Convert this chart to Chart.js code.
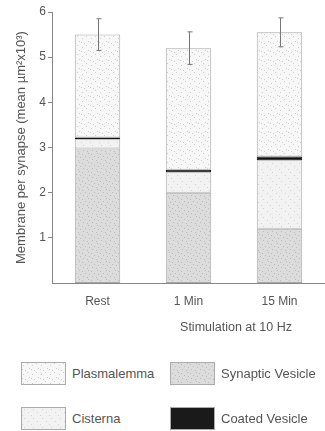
<!DOCTYPE html>
<html>
<head>
<meta charset="utf-8">
<script src="https://cdn.jsdelivr.net/npm/chart.js@4"></script>
<style>
  html, body { margin: 0; padding: 0; background: #fff; }
  body { width: 325px; height: 431px; position: relative; overflow: hidden; font-family: "Liberation Sans", Arial, sans-serif; color: #555; }
  #wrap { position: absolute; left: 0; top: 0; width: 325px; height: 340px; }
  .leg { position: absolute; display: flex; align-items: center; font-size: 13px; }
  .sw { width: 45px; height: 23px; border: 1px solid #aaa; margin-right: 6px; box-sizing: border-box; }
  #xtitle { position: absolute; left: 176px; top: 320px; width: 120px; text-align: center; font-size: 12.5px; white-space: nowrap; }
</style>
</head>
<body>
<div id="wrap"><canvas id="chart" width="325" height="340"></canvas></div>
<div id="xtitle">Stimulation at 10 Hz</div>
<div class="leg" style="left:21px;top:362px"><div class="sw" id="sw0"></div>Plasmalemma</div>
<div class="leg" style="left:170px;top:362px"><div class="sw" id="sw1"></div>Synaptic Vesicle</div>
<div class="leg" style="left:21px;top:407px"><div class="sw" id="sw2"></div>Cisterna</div>
<div class="leg" style="left:170px;top:407px"><div class="sw" id="sw3"></div>Coated Vesicle</div>
<script>
const conditions = ['Rest', '1 Min', '15 Min'];
const synapticVesicle = [2.98, 2.0, 1.2];
const cisterna = [0.2, 0.45, 1.52];
const coatedVesicle = [0.04, 0.06, 0.08];
const plasmalemma = [2.28, 2.69, 2.75];
const errorSize = [0.35, 0.36, 0.32];
const yTicks = [1, 2, 3, 4, 5, 6];

// small tile with a fixed stipple, used as bar fill and legend swatch
function stippleTile(base, dot, pts) {
  const c = document.createElement('canvas');
  c.width = 9; c.height = 9;
  const g = c.getContext('2d');
  g.fillStyle = base;
  g.fillRect(0, 0, 9, 9);
  g.fillStyle = dot;
  pts.forEach(p => g.fillRect(p[0], p[1], 1, 1));
  return c;
}

const tiles = [
  stippleTile('#f7f7f7', '#cfcfcf', [[1, 2], [5, 0], [7, 5], [3, 7], [0, 6]]),
  stippleTile('#dcdcdc', '#bdbdbd', [[1, 1], [4, 3], [7, 0], [2, 6], [6, 7], [8, 4]]),
  stippleTile('#f2f2f2', '#d4d4d4', [[2, 1], [6, 4], [0, 7]])
];
const pctx = document.createElement('canvas').getContext('2d');
const [plasmaFill, synFill, cisFill] = tiles.map(t => pctx.createPattern(t, 'repeat'));

tiles.forEach((t, i) => {
  document.getElementById('sw' + i).style.background = 'url(' + t.toDataURL() + ')';
});
document.getElementById('sw3').style.background = '#1a1a1a';

const errorBars = {
  id: 'errorBars',
  afterDatasetsDraw(chart) {
    const ctx = chart.ctx;
    const y = chart.scales.y;
    const lastMeta = chart.getDatasetMeta(chart.data.datasets.length - 1);
    ctx.save();
    ctx.strokeStyle = '#777';
    ctx.lineWidth = 1;
    conditions.forEach((c, i) => {
      const total = synapticVesicle[i] + cisterna[i] + coatedVesicle[i] + plasmalemma[i];
      const x = Math.round(lastMeta.data[i].x) + 0.5;
      const yHi = y.getPixelForValue(total + errorSize[i]);
      const yLo = y.getPixelForValue(total - errorSize[i]);
      ctx.beginPath();
      ctx.moveTo(x, yHi); ctx.lineTo(x, yLo);
      ctx.moveTo(x - 2, yHi); ctx.lineTo(x + 3, yHi);
      ctx.moveTo(x - 2, yLo); ctx.lineTo(x + 3, yLo);
      ctx.stroke();
    });
    ctx.restore();
  }
};

const seg = (label, data, fill) => ({
  label, data, backgroundColor: fill, borderColor: '#a8a8a8', borderWidth: 1,
  borderSkipped: false, barPercentage: 0.5, categoryPercentage: 1.0
});

new Chart(document.getElementById('chart'), {
  type: 'bar',
  data: {
    labels: conditions,
    datasets: [
      seg('Synaptic Vesicle', synapticVesicle, synFill),
      seg('Cisterna', cisterna, cisFill),
      { ...seg('Coated Vesicle', coatedVesicle, '#111'), borderColor: '#111' },
      seg('Plasmalemma', plasmalemma, plasmaFill)
    ]
  },
  options: {
    responsive: false,
    animation: false,
    layout: { padding: { top: 12, right: 0, left: 0, bottom: 0 } },
    plugins: { legend: { display: false }, tooltip: { enabled: false } },
    scales: {
      x: {
        stacked: true,
        grid: { display: false, drawTicks: false },
        border: { color: '#888', width: 1 },
        ticks: { color: '#555', font: { family: 'Liberation Sans', size: 12 }, padding: 11 },
        afterFit(scale) { scale.height = 57; }
      },
      y: {
        stacked: true,
        min: 0, max: 6,
        afterBuildTicks(scale) { scale.ticks = yTicks.map(v => ({ value: v })); },
        grid: { display: true, drawOnChartArea: false, tickLength: 4, color: '#888' },
        border: { color: '#888', width: 1 },
        ticks: { color: '#555', font: { family: 'Liberation Sans', size: 12 }, padding: 2 },
        title: { display: true, text: 'Membrane per synapse (mean \u00b5m\u00b2x10\u00b3)', color: '#555', font: { family: 'Liberation Sans', size: 13 }, padding: { top: 14, bottom: 0 } },
        afterFit(scale) { scale.width = 52; }
      }
    }
  },
  plugins: [errorBars]
});
</script>
</body>
</html>
